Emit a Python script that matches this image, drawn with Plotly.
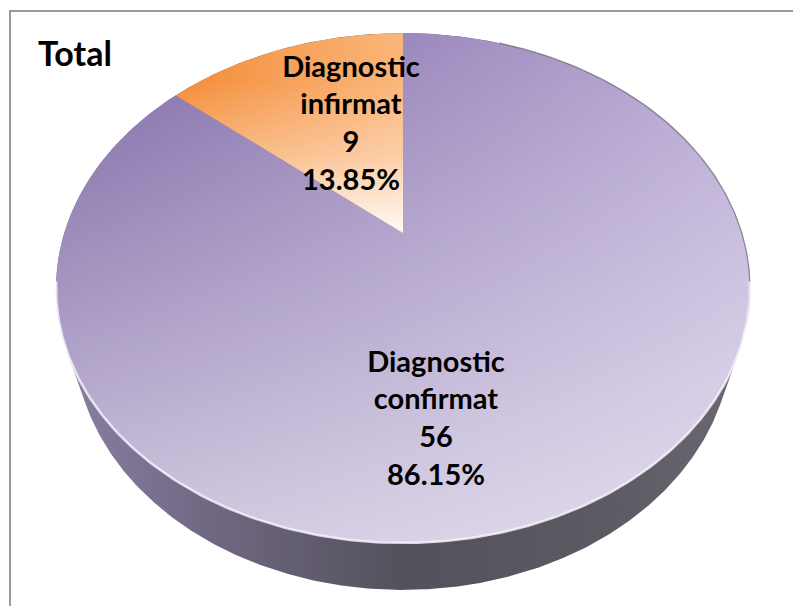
import numpy as np
import plotly.graph_objects as go

# ---- data -------------------------------------------------------------
categories = ["Diagnostic confirmat", "Diagnostic infirmat"]
counts = [56, 9]
chart_title = "Total"

# ---- 3-D pie view (perspective projection of a flat cylinder) ----------
W, H = 793, 606
CX, CY = 403.0, 233.0          # screen position of the pie centre
FOCAL = 1094.0
DIST = 3.229
ELEV = np.radians(45.84)
THICK = 0.235

# label anchor points (screen units) for each slice
LABEL_XY = [(436, 421), (351, 126)]

# top-face fills: horizontal base gradient + vertical white sheen
BASE_GRAD = [
    dict(start=56, stop=750, colorscale=[[0, "rgb(124,102,164)"], [1, "rgb(186,171,213)"]]),
    dict(start=177, stop=403, colorscale=[[0, "rgb(244,140,56)"], [1, "rgb(250,182,122)"]]),
]
SHEEN_GRAD = [
    dict(start=33, stop=541, colorscale=[[0, "rgba(255,255,255,0)"], [1, "rgba(255,255,255,0.62)"]]),
    dict(start=80, stop=233, colorscale=[[0, "rgba(255,255,255,0)"], [0.5, "rgba(255,255,255,0.35)"],
                                         [1, "rgba(255,252,248,0.95)"]]),
]
SIDE_SCALE = [[0, "rgb(138,128,165)"], [0.22, "rgb(112,104,130)"], [0.5, "rgb(84,81,92)"],
              [0.8, "rgb(92,90,98)"], [1, "rgb(108,105,114)"]]


def project(u, v, h=0.0):
    s, c = np.sin(ELEV), np.cos(ELEV)
    yc = v * s + h * c
    zc = DIST + v * c - h * s
    return CX + FOCAL * u / zc, CY - FOCAL * yc / zc


def ring(theta, h=0.0):
    return project(np.sin(theta), np.cos(theta), h)


def convex_hull(points):
    pts = sorted(set(points))

    def cross(o, a, b):
        return (a[0] - o[0]) * (b[1] - o[1]) - (a[1] - o[1]) * (b[0] - o[0])

    lower, upper = [], []
    for p in pts:
        while len(lower) >= 2 and cross(lower[-2], lower[-1], p) <= 0:
            lower.pop()
        lower.append(p)
    for p in reversed(pts):
        while len(upper) >= 2 and cross(upper[-2], upper[-1], p) <= 0:
            upper.pop()
        upper.append(p)
    return lower[:-1] + upper[:-1]


total = sum(counts)
fracs = [v / total for v in counts]
bounds = np.concatenate([[0.0], np.cumsum(fracs)]) * 2 * np.pi

fig = go.Figure()

# side wall: silhouette of the whole cylinder
full = np.linspace(0, 2 * np.pi, 721)
tx, ty = ring(full, 0.0)
bx, by = ring(full, -THICK)
pts = [(round(a, 3), round(b, 3)) for a, b in zip(np.r_[tx, bx], np.r_[ty, by])]
hull = convex_hull(pts)
hx = [p[0] for p in hull] + [hull[0][0]]
hy = [p[1] for p in hull] + [hull[0][1]]
fig.add_trace(go.Scatter(
    x=hx, y=hy, mode="lines", fill="toself", line=dict(width=0),
    fillgradient=dict(type="horizontal", start=min(hx), stop=max(hx), colorscale=SIDE_SCALE),
    hoverinfo="skip"))

# top-face slices
for i, (a0, a1) in enumerate(zip(bounds[:-1], bounds[1:])):
    th = np.linspace(a0, a1, max(int((a1 - a0) / np.pi * 360), 20))
    sx, sy = ring(th, 0.0)
    px = np.r_[CX, sx, CX]
    py = np.r_[CY, sy, CY]
    fig.add_trace(go.Scatter(
        x=px, y=py, mode="lines", fill="toself", line=dict(width=0),
        fillgradient=dict(type="horizontal", **BASE_GRAD[i]), hoverinfo="skip"))
    fig.add_trace(go.Scatter(
        x=px, y=py, mode="lines", fill="toself", line=dict(width=0),
        fillgradient=dict(type="vertical", **SHEEN_GRAD[i]), hoverinfo="skip"))

# soft outline on the right of the top face and bevel highlight on the front rim
right = np.radians(np.linspace(20, 110, 150))
ox, oy = ring(right, 0.0)
fig.add_trace(go.Scatter(x=ox, y=oy, mode="lines",
                         line=dict(color="rgba(100,95,115,0.55)", width=1.5), hoverinfo="skip"))
front = np.radians(np.linspace(101, 259, 200))
fx, fy = ring(front, 0.0)
fig.add_trace(go.Scatter(x=fx, y=fy, mode="lines",
                         line=dict(color="rgba(250,248,255,0.8)", width=2.5), hoverinfo="skip"))

# data labels: name, value, percentage
for i, name in enumerate(categories):
    pct = counts[i] / total * 100
    txt = f"{name.replace(' ', '<br>')}<br>{counts[i]}<br>{pct:.2f}%"
    fig.add_trace(go.Scatter(
        x=[LABEL_XY[i][0]], y=[LABEL_XY[i][1]], mode="text", text=[txt],
        textposition="middle center",
        textfont=dict(family="Lato", size=29, color="black", weight="bold"),
        hoverinfo="skip"))

fig.add_annotation(x=36, y=52, xref="x", yref="y", text=chart_title, showarrow=False,
                   xanchor="left", yanchor="middle",
                   font=dict(family="Lato", size=34, color="black", weight="bold"))

fig.add_shape(type="rect", x0=10, y0=11, x1=W + 20, y1=H + 20, xref="x", yref="y",
              line=dict(color="#9a9a9a", width=2), layer="below")

fig.update_layout(
    width=W, height=H, margin=dict(l=0, r=0, t=0, b=0),
    paper_bgcolor="white", plot_bgcolor="white", showlegend=False,
    xaxis=dict(range=[0, W], visible=False, fixedrange=True),
    yaxis=dict(range=[H, 0], visible=False, fixedrange=True),
)

fig.write_html("out.html")
